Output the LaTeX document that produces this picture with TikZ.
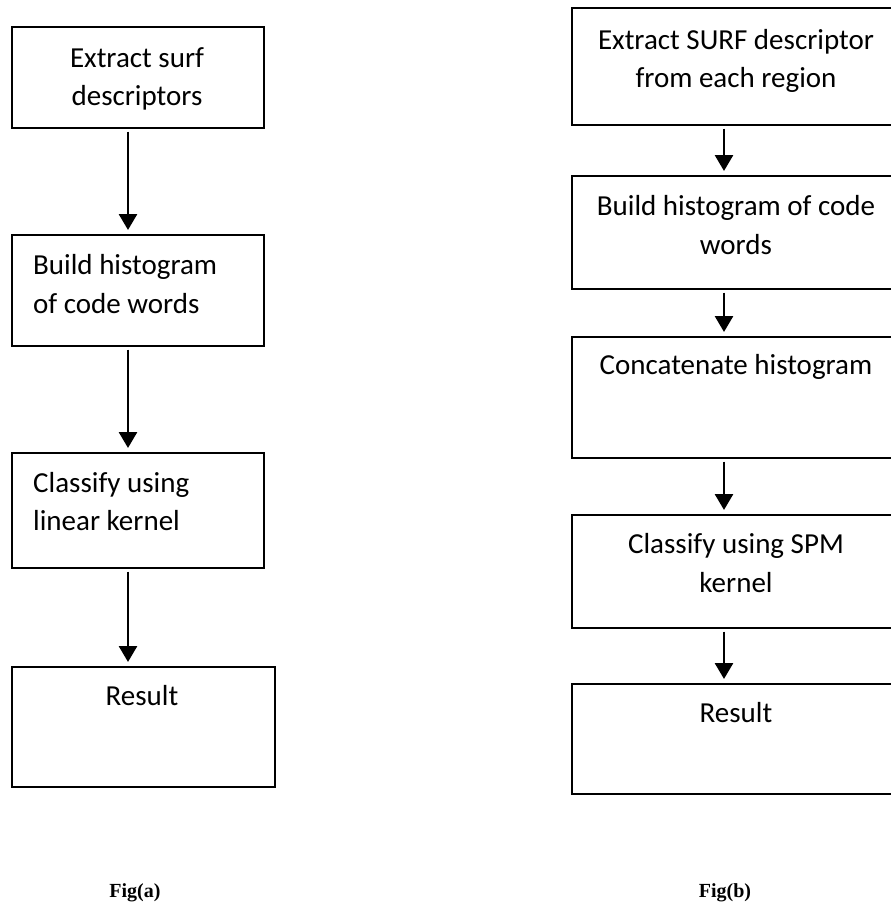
\documentclass[tikz,border=0pt]{standalone}
\usepackage{fontspec}
\setmainfont{Carlito}
\newfontfamily\capfont{Liberation Serif}
\usetikzlibrary{arrows.meta}

\begin{document}
\begin{tikzpicture}[x=1pt,y=-1pt,
  stage/.style={draw=black, line width=1.7pt, rectangle, inner sep=0pt, anchor=north west},
  txt/.style={font=\fontsize{29}{35}\selectfont, inner sep=0pt},
  flow/.style={line width=2.8pt, -{Triangle[width=18pt,length=16pt]}, shorten <=3pt, shorten >=4pt},
  caption/.style={font=\capfont\bfseries\fontsize{20}{24}\selectfont, inner sep=0pt, anchor=base}
]
\useasboundingbox (0,0) rectangle (891,906);
\clip (0,0) rectangle (891,906);

% vertical axes of the two flows
\coordinate (axL) at (128,0);
\coordinate (axR) at (724,0);

% ---- Fig (a): bag of words with linear kernel ----
\node[stage, minimum width=252pt, minimum height=101pt] (L1) at (11,26) {};
\node[stage, minimum width=252pt, minimum height=111pt] (L2) at (11,234) {};
\node[stage, minimum width=252pt, minimum height=115pt] (L3) at (11,452) {};
\node[stage, minimum width=263pt, minimum height=120pt] (L4) at (11,666) {};

\node[txt, anchor=base] (tL1a) at (137,67) {Extract surf};
\node[txt, anchor=base] (tL1b) at (137,105) {descriptors};
\node[txt, anchor=base west] (tL2a) at (33,274) {Build histogram};
\node[txt, anchor=base west] (tL2b) at (33,313) {of code words};
\node[txt, anchor=base west] (tL3a) at (33,492) {Classify using};
\node[txt, anchor=base west] (tL3b) at (33,530) {linear kernel};
\node[txt, anchor=base] (tL4) at (142,705) {Result};

\draw[flow] (axL |- L1.south) -- (axL |- L2.north);
\draw[flow] (axL |- L2.south) -- (axL |- L3.north);
\draw[flow] (axL |- L3.south) -- (axL |- L4.north);

% ---- Fig (b): spatial pyramid matching ----
\node[stage, minimum width=340pt, minimum height=117pt] (R1) at (571,7) {};
\node[stage, minimum width=340pt, minimum height=113pt] (R2) at (571,175) {};
\node[stage, minimum width=340pt, minimum height=121pt] (R3) at (571,336) {};
\node[stage, minimum width=340pt, minimum height=113pt] (R4) at (571,514) {};
\node[stage, minimum width=340pt, minimum height=110pt] (R5) at (571,683) {};

\node[txt, anchor=base] (tR1a) at (736,49) {Extract SURF descriptor};
\node[txt, anchor=base] (tR1b) at (736,87) {from each region};
\node[txt, anchor=base] (tR2a) at (736,215) {Build histogram of code};
\node[txt, anchor=base] (tR2b) at (736,254) {words};
\node[txt, anchor=base] (tR3) at (736,374) {Concatenate histogram};
\node[txt, anchor=base] (tR4a) at (736,553) {Classify using SPM};
\node[txt, anchor=base] (tR4b) at (736,592) {kernel};
\node[txt, anchor=base] (tR5) at (736,722) {Result};

\draw[flow] (axR |- R1.south) -- (axR |- R2.north);
\draw[flow] (axR |- R2.south) -- (axR |- R3.north);
\draw[flow] (axR |- R3.south) -- (axR |- R4.north);
\draw[flow] (axR |- R4.south) -- (axR |- R5.north);

% captions
\node[caption] (capA) at (135,897) {Fig(a)};
\node[caption] (capB) at (725,897) {Fig(b)};
\end{tikzpicture}
\end{document}
